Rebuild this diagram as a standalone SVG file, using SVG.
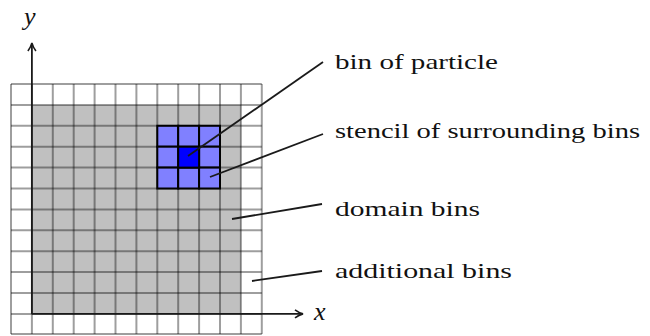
<svg xmlns="http://www.w3.org/2000/svg" width="650" height="336" viewBox="0 0 650 336">
<defs>
<style>
.grid{stroke:#000;stroke-opacity:0.38;stroke-width:2;fill:none}
.axis{stroke:#1a1a1a;stroke-width:1.8;fill:none}
.lead{stroke:#1a1a1a;stroke-width:1.8;fill:none}
.cell{fill:#8080ff;stroke:#000;stroke-width:2}
.lbl{font-family:"Liberation Serif","DejaVu Serif",serif;font-size:22px;fill:#111}
.ax{font-family:"Liberation Serif","DejaVu Serif",serif;font-size:26px;font-style:italic;fill:#111}
</style>
<marker id="arr" viewBox="0 0 10 10" refX="8" refY="5" markerWidth="10" markerHeight="10" markerUnits="userSpaceOnUse" orient="auto">
<path d="M1,1 Q5,4 9,5 Q5,6 1,9" fill="none" stroke="#1a1a1a" stroke-width="1.6"/>
</marker>
</defs>
<rect width="650" height="336" fill="#fff"/>
<g id="domain">
<rect x="31.9" y="104.9" width="209" height="209" fill="#c0c0c0"/>
</g>
<g id="grid" class="grid">
<path d="M11,84V334M31.9,84V334M52.8,84V334M73.7,84V334M94.6,84V334M115.5,84V334M136.4,84V334M157.3,84V334M178.2,84V334M199.1,84V334M220,84V334M240.9,84V334M261.8,84V334"/>
<path d="M11,84H261.8M11,104.9H261.8M11,125.8H261.8M11,146.7H261.8M11,167.6H261.8M11,188.5H261.8M11,209.4H261.8M11,230.3H261.8M11,251.2H261.8M11,272.1H261.8M11,293H261.8M11,313.9H261.8M11,334H261.8"/>
</g>
<g id="stencil">
<rect class="cell" x="157.3" y="125.8" width="20.9" height="20.9"/>
<rect class="cell" x="178.2" y="125.8" width="20.9" height="20.9"/>
<rect class="cell" x="199.1" y="125.8" width="20.9" height="20.9"/>
<rect class="cell" x="157.3" y="146.7" width="20.9" height="20.9"/>
<rect class="cell" x="199.1" y="146.7" width="20.9" height="20.9"/>
<rect class="cell" x="157.3" y="167.6" width="20.9" height="20.9"/>
<rect class="cell" x="178.2" y="167.6" width="20.9" height="20.9"/>
<rect class="cell" x="199.1" y="167.6" width="20.9" height="20.9"/>
</g>
<g id="particle-bin">
<rect class="cell" x="178.2" y="146.7" width="20.9" height="20.9" style="fill:#0000ff"/>
</g>
<g id="axes">
<path class="axis" d="M31.9,313.9V44" marker-end="url(#arr)"/>
<path class="axis" d="M31.9,313.9H302" marker-end="url(#arr)"/>
<text class="ax" x="24" y="25">y</text>
<text class="ax" x="314" y="320">x</text>
</g>
<g id="connectors">
<path class="lead" d="M188,156L323,62"/>
<path class="lead" d="M210,177L323,134"/>
<path class="lead" d="M232,219L322,204"/>
<path class="lead" d="M252,281L322,271"/>
</g>
<g id="labels">
<text class="lbl" x="335" y="69" textLength="163" lengthAdjust="spacingAndGlyphs">bin of particle</text>
<text class="lbl" x="335" y="138" textLength="305" lengthAdjust="spacingAndGlyphs">stencil of surrounding bins</text>
<text class="lbl" x="335" y="216" textLength="145" lengthAdjust="spacingAndGlyphs">domain bins</text>
<text class="lbl" x="335" y="278" textLength="177" lengthAdjust="spacingAndGlyphs">additional bins</text>
</g>
</svg>
